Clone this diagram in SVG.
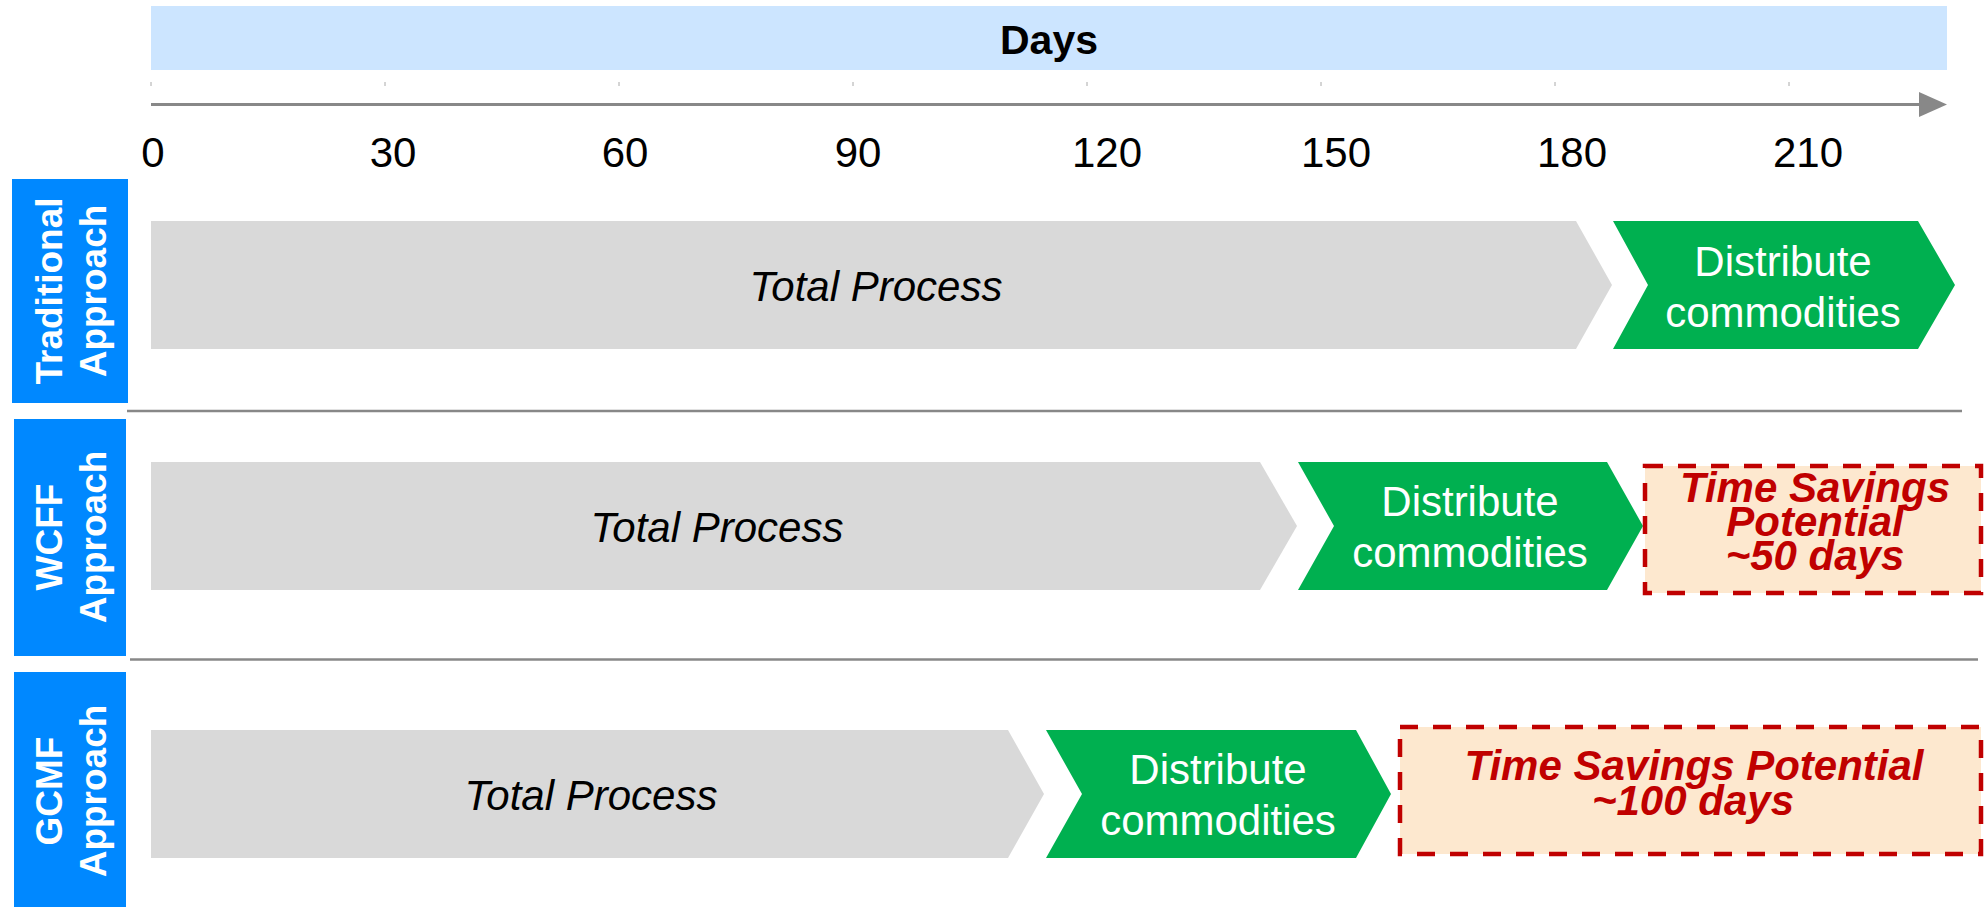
<svg xmlns="http://www.w3.org/2000/svg" width="1985" height="907" viewBox="0 0 1985 907">
<style>
text{font-family:"Liberation Sans",Arial,sans-serif}
.lbl{fill:#0088FF}
.lt{fill:#fff;font-weight:bold;font-size:37px;text-anchor:middle}
.tick{font-size:42px;fill:#000;text-anchor:middle}
.gray{fill:#D9D9D9}
.green{fill:#00B050}
.gt{fill:#fff;font-size:42px;text-anchor:middle}
.tp{fill:#000;font-size:42px;font-style:italic;text-anchor:middle}
.save{fill:#FDE8CF;stroke:#C00000;stroke-width:4.5;stroke-dasharray:18 15}
.st{fill:#C00000;font-size:42px;font-weight:bold;font-style:italic;text-anchor:middle}
.sep{stroke:#888;stroke-width:2.5}
</style>
<g id="header">
<rect x="151" y="6" width="1796" height="64" fill="#CCE5FF"/>
<text x="1049" y="54" font-size="41" font-weight="bold" text-anchor="middle" fill="#000">Days</text>
</g>
<g id="axis">
<g stroke="#aaa" stroke-width="1">
<line x1="151" y1="82" x2="151" y2="86"/><line x1="385" y1="82" x2="385" y2="86"/><line x1="619" y1="82" x2="619" y2="86"/><line x1="853" y1="82" x2="853" y2="86"/><line x1="1087" y1="82" x2="1087" y2="86"/><line x1="1321" y1="82" x2="1321" y2="86"/><line x1="1555" y1="82" x2="1555" y2="86"/><line x1="1789" y1="82" x2="1789" y2="86"/>
</g>
<line x1="151" y1="104.5" x2="1921" y2="104.5" stroke="#888" stroke-width="3"/>
<polygon points="1919,92 1947,104.5 1919,117" fill="#888"/>
<text class="tick" x="153" y="167">0</text>
<text class="tick" x="393" y="167">30</text>
<text class="tick" x="625" y="167">60</text>
<text class="tick" x="858" y="167">90</text>
<text class="tick" x="1107" y="167">120</text>
<text class="tick" x="1336" y="167">150</text>
<text class="tick" x="1572" y="167">180</text>
<text class="tick" x="1808" y="167">210</text>
</g>
<g id="separators">
<line class="sep" x1="127" y1="411" x2="1962" y2="411"/>
<line class="sep" x1="130" y1="659.5" x2="1978" y2="659.5"/>
</g>
<g id="label-traditional">
<rect class="lbl" x="12" y="179" width="116" height="224"/>
<text class="lt" transform="translate(62,291) rotate(-90)"><tspan x="0" y="0">Traditional</tspan><tspan x="0" y="44">Approach</tspan></text>
</g>
<g id="label-wcff">
<rect class="lbl" x="14" y="419" width="112" height="237"/>
<text class="lt" transform="translate(62,537) rotate(-90)"><tspan x="0" y="0">WCFF</tspan><tspan x="0" y="44">Approach</tspan></text>
</g>
<g id="label-gcmf">
<rect class="lbl" x="14" y="672" width="112" height="235"/>
<text class="lt" transform="translate(62,791) rotate(-90)"><tspan x="0" y="0">GCMF</tspan><tspan x="0" y="44">Approach</tspan></text>
</g>
<g id="trad-total">
<polygon class="gray" points="151,221 1576,221 1612,285 1576,349 151,349"/>
<text class="tp" x="876" y="301">Total Process</text>
</g>
<g id="trad-distribute">
<polygon class="green" points="1613,221 1918,221 1955,285 1918,349 1613,349 1648,285"/>
<text class="gt" x="1783" y="276">Distribute</text>
<text class="gt" x="1783" y="327">commodities</text>
</g>
<g id="wcff-total">
<polygon class="gray" points="151,462 1260,462 1297,526 1260,590 151,590"/>
<text class="tp" x="717" y="542">Total Process</text>
</g>
<g id="wcff-distribute">
<polygon class="green" points="1298,462 1607,462 1643,526 1607,590 1298,590 1334,526"/>
<text class="gt" x="1470" y="516">Distribute</text>
<text class="gt" x="1470" y="567">commodities</text>
</g>
<g id="wcff-savings">
<rect class="save" x="1645" y="466" width="336" height="127"/>
<text class="st" x="1815" y="502">Time Savings</text>
<text class="st" x="1815" y="536">Potential</text>
<text class="st" x="1815" y="570">~50 days</text>
</g>
<g id="gcmf-total">
<polygon class="gray" points="151,730 1008,730 1044,794 1008,858 151,858"/>
<text class="tp" x="591" y="810">Total Process</text>
</g>
<g id="gcmf-distribute">
<polygon class="green" points="1046,730 1356,730 1391,794 1356,858 1046,858 1082,794"/>
<text class="gt" x="1218" y="784">Distribute</text>
<text class="gt" x="1218" y="835">commodities</text>
</g>
<g id="gcmf-savings">
<rect class="save" x="1400" y="727" width="581" height="127"/>
<text class="st" x="1694" y="780">Time Savings Potential</text>
<text class="st" x="1693" y="815">~100 days</text>
</g>
</svg>
